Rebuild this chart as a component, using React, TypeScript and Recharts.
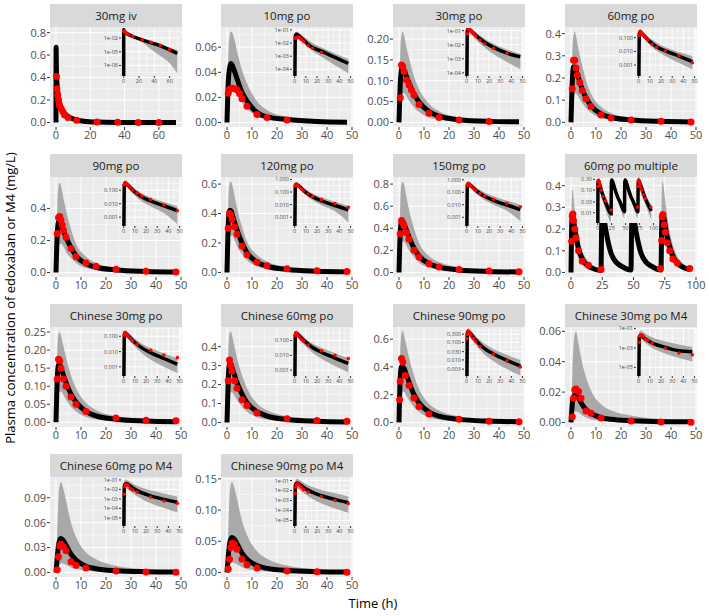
import React from "react";
import { ComposedChart, Line, Area, Scatter, XAxis, YAxis, ReferenceLine } from "recharts";

const FONT = "'Open Sans', 'Noto Sans', sans-serif";

// simulated-curve time grids (h)
const tIv = [0, 0.05, 0.25, 0.5, 1, 2, 3, 4, 6, 8, 12, 16, 24, 36, 48, 60, 70];
const tPo = [0, 0.5, 1, 1.5, 2, 3, 4, 6, 8, 12, 16, 24, 36, 48];
const tMulti = [0, 0.5, 1, 1.5, 2, 3, 4, 6, 8, 12, 16, 24, 24.5, 25, 26, 28, 32, 36, 40, 48, 48.5, 49, 50, 52, 56, 60, 64, 72, 72.5, 73, 74, 76, 78, 80, 84, 88, 96];
const tObs = [0.5, 1, 1.5, 2, 3, 4, 6, 8, 12, 16, 24, 36, 48];
const tObsCn = [0.5, 1, 1.5, 2, 3, 4, 6, 8, 12, 24, 36, 48];

// 30mg iv
const ivMed = [0, 0.67, 0.47, 0.37, 0.27, 0.18, 0.135, 0.102, 0.066, 0.045, 0.022, 0.012, 0.004, 0.0009, 0.0002, 0.000025, 0.0000045];
const ivLo = [0, 0.6, 0.42, 0.33, 0.24, 0.16, 0.115, 0.088, 0.056, 0.037, 0.017, 0.0075, 0.0012, 0.00003, 0.0000012, 0.00000003, 0.0000000002];
const ivHi = [0, 0.74, 0.52, 0.41, 0.3, 0.2, 0.155, 0.118, 0.078, 0.054, 0.028, 0.016, 0.0058, 0.0016, 0.0005, 0.00009, 0.000023];
const ivObsT = [0.25, 0.5, 1, 1.5, 2, 3, 4, 5, 7, 12, 24, 36, 48, 60];
const ivObs = [0.41, 0.3, 0.245, 0.2, 0.155, 0.125, 0.095, 0.066, 0.045, 0.021, 0.0044, 0.0012, 0.00027, 0.00003];

// 10mg po
const p10Med = [0, 0.032, 0.043, 0.047, 0.046, 0.041, 0.035, 0.024, 0.017, 0.008, 0.0045, 0.0024, 0.0008, 0.00028];
const p10Lo = [0, 0.012, 0.022, 0.026, 0.027, 0.025, 0.022, 0.016, 0.011, 0.005, 0.0025, 0.0009, 0.0002, 0.00005];
const p10Hi = [0, 0.05, 0.068, 0.0725, 0.072, 0.066, 0.057, 0.042, 0.031, 0.017, 0.01, 0.0045, 0.0016, 0.0006];
const p10ObsT = [0.5, 1, 2, 3, 4, 5, 6, 8, 12, 16, 24];
const p10Obs = [0.0232, 0.0264, 0.0272, 0.0268, 0.026, 0.023, 0.019, 0.013, 0.0064, 0.004, 0.0019];

// 30mg po
const p30Med = [0, 0.09, 0.128, 0.13, 0.126, 0.11, 0.094, 0.068, 0.049, 0.026, 0.015, 0.0065, 0.0025, 0.0014];
const p30Lo = [0, 0.03, 0.06, 0.07, 0.07, 0.062, 0.052, 0.036, 0.025, 0.012, 0.0065, 0.0022, 0.0006, 0.00018];
const p30Hi = [0, 0.16, 0.21, 0.218, 0.21, 0.18, 0.155, 0.11, 0.08, 0.045, 0.027, 0.012, 0.0045, 0.0022];
const p30ObsT = [0.5, 1, 1.5, 2, 3, 4, 5, 6, 8, 12, 16, 24, 36];
const p30Obs = [0.059, 0.138, 0.134, 0.122, 0.102, 0.09, 0.078, 0.066, 0.043, 0.022, 0.012, 0.0056, 0.0025];

// 60mg po
const p60Med = [0, 0.18, 0.25, 0.25, 0.235, 0.2, 0.165, 0.11, 0.075, 0.038, 0.022, 0.011, 0.0045, 0.0018];
const p60Lo = [0, 0.06, 0.11, 0.13, 0.13, 0.115, 0.095, 0.065, 0.043, 0.02, 0.011, 0.0045, 0.0015, 0.0005];
const p60Hi = [0, 0.3, 0.39, 0.41, 0.39, 0.33, 0.28, 0.19, 0.13, 0.07, 0.042, 0.02, 0.009, 0.0045];
const p60ObsT = [0.5, 1, 1.5, 2, 2.5, 3.5, 4.5, 6, 8, 12, 16, 24, 36, 48];
const p60Obs = [0.152, 0.28, 0.28, 0.245, 0.212, 0.18, 0.144, 0.106, 0.071, 0.033, 0.02, 0.011, 0.005, 0.0015];

// 90mg po
const p90Med = [0, 0.24, 0.316, 0.315, 0.3, 0.26, 0.22, 0.155, 0.105, 0.055, 0.033, 0.016, 0.007, 0.003];
const p90Lo = [0, 0.08, 0.15, 0.18, 0.18, 0.16, 0.13, 0.09, 0.06, 0.028, 0.015, 0.0065, 0.002, 0.0003];
const p90Hi = [0, 0.4, 0.54, 0.56, 0.54, 0.46, 0.39, 0.27, 0.18, 0.1, 0.06, 0.03, 0.013, 0.0065];
const p90ObsT = [0.5, 1, 1.5, 2, 2.5, 3, 4, 6, 8, 12, 16, 24, 36, 48];
const p90Obs = [0.244, 0.344, 0.35, 0.327, 0.296, 0.264, 0.22, 0.15, 0.098, 0.06, 0.039, 0.02, 0.008, 0.003];

// 120mg po
const p120Med = [0, 0.32, 0.42, 0.42, 0.4, 0.34, 0.29, 0.2, 0.135, 0.07, 0.042, 0.02, 0.0085, 0.0038];
const p120Lo = [0, 0.12, 0.22, 0.25, 0.25, 0.22, 0.18, 0.125, 0.082, 0.04, 0.022, 0.009, 0.003, 0.0004];
const p120Hi = [0, 0.45, 0.6, 0.617, 0.6, 0.52, 0.44, 0.31, 0.21, 0.12, 0.075, 0.038, 0.017, 0.008];
const p120Obs = [0.3, 0.4, 0.39, 0.36, 0.31, 0.26, 0.18, 0.12, 0.07, 0.045, 0.025, 0.012, 0.006];

// 150mg po
const p150Med = [0, 0.36, 0.46, 0.46, 0.44, 0.38, 0.32, 0.22, 0.15, 0.08, 0.048, 0.023, 0.0095, 0.0042];
const p150Lo = [0, 0.12, 0.24, 0.28, 0.28, 0.24, 0.2, 0.14, 0.09, 0.045, 0.024, 0.01, 0.0033, 0.0005];
const p150Hi = [0, 0.6, 0.8, 0.823, 0.8, 0.68, 0.57, 0.4, 0.27, 0.15, 0.095, 0.048, 0.021, 0.01];
const p150Obs = [0.35, 0.47, 0.45, 0.42, 0.36, 0.3, 0.2, 0.14, 0.08, 0.05, 0.028, 0.013, 0.007];

// 60mg po multiple
const mMed = [0, 0.2, 0.26, 0.26, 0.24, 0.2, 0.17, 0.11, 0.075, 0.038, 0.022, 0.009, 0.2, 0.28, 0.26, 0.19, 0.09, 0.048, 0.03, 0.011, 0.2, 0.28, 0.26, 0.19, 0.09, 0.048, 0.03, 0.011, 0.2, 0.27, 0.26, 0.19, 0.14, 0.1, 0.05, 0.03, 0.012];
const mLo = [0, 0.1, 0.15, 0.16, 0.15, 0.125, 0.1, 0.065, 0.042, 0.019, 0.01, 0.0038, 0.14, 0.2, 0.19, 0.13, 0.06, 0.031, 0.018, 0.0058, 0.14, 0.2, 0.19, 0.13, 0.06, 0.031, 0.018, 0.0058, 0.12, 0.17, 0.16, 0.12, 0.085, 0.06, 0.028, 0.015, 0.005];
const mHi = [0, 0.3, 0.38, 0.38, 0.35, 0.29, 0.25, 0.17, 0.12, 0.065, 0.04, 0.02, 0.26, 0.35, 0.33, 0.25, 0.12, 0.066, 0.042, 0.017, 0.26, 0.35, 0.33, 0.25, 0.12, 0.066, 0.042, 0.017, 0.32, 0.42, 0.4, 0.3, 0.22, 0.16, 0.085, 0.05, 0.022];
const mObsT = [0.5, 1, 1.5, 2, 3, 4, 6, 9, 14, 24, 71.5, 72.5, 73, 73.5, 74.5, 75.5, 77, 79, 81.5, 85, 95];
const mObs = [0.144, 0.26, 0.27, 0.24, 0.2, 0.16, 0.1, 0.052, 0.033, 0.013, 0.018, 0.147, 0.256, 0.266, 0.22, 0.185, 0.137, 0.1, 0.062, 0.043, 0.018];

// Chinese 30mg po
const c30Med = [0, 0.12, 0.16, 0.16, 0.15, 0.13, 0.11, 0.078, 0.056, 0.03, 0.018, 0.0085, 0.0035, 0.0015];
const c30Lo = [0, 0.04, 0.075, 0.085, 0.085, 0.075, 0.063, 0.043, 0.03, 0.015, 0.008, 0.003, 0.001, 0.0004];
const c30Hi = [0, 0.19, 0.245, 0.25, 0.24, 0.21, 0.18, 0.13, 0.095, 0.054, 0.034, 0.017, 0.0075, 0.0035];
const c30Obs = [0.12, 0.175, 0.17, 0.15, 0.12, 0.1, 0.07, 0.05, 0.03, 0.012, 0.006, 0.004];

// Chinese 60mg po
const c60Med = [0, 0.23, 0.31, 0.31, 0.29, 0.25, 0.21, 0.15, 0.105, 0.057, 0.034, 0.016, 0.0065, 0.0028];
const c60Lo = [0, 0.08, 0.14, 0.16, 0.16, 0.14, 0.12, 0.082, 0.056, 0.028, 0.015, 0.0058, 0.0019, 0.0007];
const c60Hi = [0, 0.36, 0.47, 0.48, 0.46, 0.4, 0.34, 0.25, 0.18, 0.1, 0.064, 0.032, 0.014, 0.0065];
const c60Obs = [0.22, 0.33, 0.3, 0.27, 0.22, 0.18, 0.12, 0.09, 0.05, 0.02, 0.01, 0.006];

// Chinese 90mg po
const c90Med = [0, 0.33, 0.4, 0.4, 0.39, 0.34, 0.29, 0.2, 0.14, 0.075, 0.045, 0.022, 0.0095, 0.0045];
const c90Lo = [0, 0.12, 0.2, 0.22, 0.22, 0.19, 0.16, 0.11, 0.075, 0.036, 0.02, 0.0085, 0.003, 0.0013];
const c90Hi = [0, 0.5, 0.64, 0.66, 0.63, 0.55, 0.47, 0.34, 0.24, 0.135, 0.085, 0.043, 0.02, 0.01];
const c90ObsT = [0.25, 0.5, 1, 1.5, 2.5, 4, 6, 8, 12, 24, 36, 48];
const c90Obs = [0.163, 0.296, 0.46, 0.435, 0.337, 0.265, 0.175, 0.114, 0.06, 0.022, 0.009, 0.004];

// Chinese 30mg po M4
const m30Med = [0, 0.012, 0.017, 0.018, 0.018, 0.016, 0.013, 0.0085, 0.006, 0.0032, 0.0021, 0.0011, 0.0005, 0.0004];
const m30Lo = [0, 0.000003, 0.006, 0.007, 0.0072, 0.0065, 0.0052, 0.0032, 0.0021, 0.001, 0.0006, 0.00025, 0.00009, 0.00004];
const m30Hi = [0, 0.03, 0.05, 0.058, 0.06, 0.052, 0.043, 0.03, 0.021, 0.012, 0.008, 0.0045, 0.0022, 0.0012];
const m30Obs = [0.0038, 0.016, 0.0216, 0.022, 0.0204, 0.016, 0.0076, 0.006, 0.003, 0.0009, 0.0003, 0.0002];

// Chinese 60mg po M4
const m60Med = [0, 0.018, 0.033, 0.039, 0.041, 0.038, 0.033, 0.022, 0.015, 0.0075, 0.0045, 0.0021, 0.0009, 0.00045];
const m60Lo = [0, 0.000004, 0.007, 0.01, 0.011, 0.0105, 0.009, 0.006, 0.004, 0.0019, 0.001, 0.00035, 0.00011, 0.00004];
const m60Hi = [0, 0.05, 0.09, 0.105, 0.109, 0.1, 0.087, 0.06, 0.043, 0.024, 0.016, 0.008, 0.0038, 0.0018];
const m60Obs = [0.0032, 0.019, 0.032, 0.034, 0.031, 0.026, 0.0128, 0.0088, 0.0052, 0.0016, 0.0006, 0.00035];

// Chinese 90mg po M4
const m90Med = [0, 0.025, 0.045, 0.053, 0.056, 0.053, 0.046, 0.031, 0.021, 0.011, 0.0065, 0.003, 0.0013, 0.0006];
const m90Lo = [0, 0.000008, 0.01, 0.014, 0.016, 0.015, 0.013, 0.0085, 0.0057, 0.0027, 0.0014, 0.0005, 0.00016, 0.00006];
const m90Hi = [0, 0.065, 0.12, 0.14, 0.145, 0.135, 0.118, 0.083, 0.06, 0.034, 0.022, 0.011, 0.0052, 0.0025];
const m90Obs = [0.0054, 0.021, 0.04, 0.047, 0.045, 0.037, 0.021, 0.0123, 0.007, 0.0025, 0.001, 0.0005];

// axis ticks
const x48 = [0, 10, 20, 30, 40, 50];
const xIv = [0, 20, 40, 60];
const xMulti = [0, 25, 50, 75, 100];
const decTicks5 = [1e-5, 1e-4, 1e-3, 1e-2, 1e-1];
const decLabels5 = ["1e-05", "1e-04", "1e-03", "1e-02", "1e-01"];
const decTicks4 = [1e-4, 1e-3, 1e-2, 1e-1];
const decLabels4 = ["1e-04", "1e-03", "1e-02", "1e-01"];
const fixTicks3 = [0.001, 0.01, 0.1];
const fixLabels3 = ["0.001", "0.010", "0.100"];
const fixTicks4 = [0.001, 0.01, 0.1, 1];
const fixLabels4 = ["0.001", "0.010", "0.100", "1.000"];

type Panel = {
  title: string;
  t: number[]; med: number[]; lo: number[]; hi: number[];
  obsT: number[]; obs: number[];
  xDom: [number, number]; xTicks: number[];
  yDom: [number, number]; yTicks: number[]; yDec: number;
  inDom: [number, number]; inTicks: number[]; inLabels: string[];
  multi?: boolean;
};

const D48: [number, number] = [-2.4, 50.4];

const panels: Panel[] = [
  { title: "30mg iv", t: tIv, med: ivMed, lo: ivLo, hi: ivHi, obsT: ivObsT, obs: ivObs,
    xDom: [-3.5, 73.5], xTicks: xIv, yDom: [-0.04, 0.85], yTicks: [0, 0.2, 0.4, 0.6, 0.8], yDec: 1,
    inDom: [5e-11, 1.58], inTicks: [1e-8, 1e-5, 1e-2], inLabels: ["1e-08", "1e-05", "1e-02"] },
  { title: "10mg po", t: tPo, med: p10Med, lo: p10Lo, hi: p10Hi, obsT: p10ObsT, obs: p10Obs,
    xDom: D48, xTicks: x48, yDom: [-0.0036, 0.0761], yTicks: [0, 0.02, 0.04, 0.06], yDec: 2,
    inDom: [3.1e-5, 0.14], inTicks: decTicks4, inLabels: decLabels4 },
  { title: "30mg po", t: tPo, med: p30Med, lo: p30Lo, hi: p30Hi, obsT: p30ObsT, obs: p30Obs,
    xDom: D48, xTicks: x48, yDom: [-0.011, 0.229], yTicks: [0, 0.05, 0.1, 0.15, 0.2], yDec: 2,
    inDom: [6e-5, 0.155], inTicks: decTicks4, inLabels: decLabels4 },
  { title: "60mg po", t: tPo, med: p60Med, lo: p60Lo, hi: p60Hi, obsT: p60ObsT, obs: p60Obs,
    xDom: D48, xTicks: x48, yDom: [-0.021, 0.43], yTicks: [0, 0.1, 0.2, 0.3, 0.4], yDec: 1,
    inDom: [1.6e-4, 0.51], inTicks: fixTicks3, inLabels: fixLabels3 },
  { title: "90mg po", t: tPo, med: p90Med, lo: p90Lo, hi: p90Hi, obsT: p90ObsT, obs: p90Obs,
    xDom: D48, xTicks: x48, yDom: [-0.028, 0.596], yTicks: [0, 0.2, 0.4], yDec: 1,
    inDom: [2.2e-4, 0.8], inTicks: fixTicks3, inLabels: fixLabels3 },
  { title: "120mg po", t: tPo, med: p120Med, lo: p120Lo, hi: p120Hi, obsT: tObs, obs: p120Obs,
    xDom: D48, xTicks: x48, yDom: [-0.031, 0.648], yTicks: [0, 0.2, 0.4, 0.6], yDec: 1,
    inDom: [2e-4, 1.3], inTicks: fixTicks4, inLabels: fixLabels4 },
  { title: "150mg po", t: tPo, med: p150Med, lo: p150Lo, hi: p150Hi, obsT: tObs, obs: p150Obs,
    xDom: D48, xTicks: x48, yDom: [-0.041, 0.864], yTicks: [0, 0.2, 0.4, 0.6, 0.8], yDec: 1,
    inDom: [2e-4, 1.4], inTicks: fixTicks4, inLabels: fixLabels4 },
  { title: "60mg po multiple", t: tMulti, med: mMed, lo: mLo, hi: mHi, obsT: mObsT, obs: mObs,
    xDom: [-4.8, 100.8], xTicks: xMulti, yDom: [-0.021, 0.44], yTicks: [0, 0.1, 0.2, 0.3, 0.4], yDec: 1,
    inDom: [0.0035, 0.38], inTicks: [0.01, 0.03, 0.1, 0.3], inLabels: ["0.01", "0.03", "0.10", "0.30"], multi: true },
  { title: "Chinese 30mg po", t: tPo, med: c30Med, lo: c30Lo, hi: c30Hi, obsT: tObsCn, obs: c30Obs,
    xDom: D48, xTicks: x48, yDom: [-0.013, 0.264], yTicks: [0, 0.05, 0.1, 0.15, 0.2, 0.25], yDec: 2,
    inDom: [2.5e-4, 0.35], inTicks: fixTicks3, inLabels: fixLabels3 },
  { title: "Chinese 60mg po", t: tPo, med: c60Med, lo: c60Lo, hi: c60Hi, obsT: tObsCn, obs: c60Obs,
    xDom: D48, xTicks: x48, yDom: [-0.024, 0.504], yTicks: [0, 0.1, 0.2, 0.3, 0.4], yDec: 1,
    inDom: [4e-4, 0.7], inTicks: fixTicks3, inLabels: fixLabels3 },
  { title: "Chinese 90mg po", t: tPo, med: c90Med, lo: c90Lo, hi: c90Hi, obsT: c90ObsT, obs: c90Obs,
    xDom: D48, xTicks: x48, yDom: [-0.033, 0.687], yTicks: [0, 0.2, 0.4, 0.6], yDec: 1,
    inDom: [0.0012, 0.68], inTicks: [0.003, 0.01, 0.03, 0.1, 0.3], inLabels: ["0.003", "0.010", "0.030", "0.100", "0.300"] },
  { title: "Chinese 30mg po M4", t: tPo, med: m30Med, lo: m30Lo, hi: m30Hi, obsT: tObsCn, obs: m30Obs,
    xDom: D48, xTicks: x48, yDom: [-0.003, 0.0629], yTicks: [0, 0.02, 0.04, 0.06], yDec: 2,
    inDom: [1.3e-6, 0.11], inTicks: [1e-5, 1e-3, 1e-1], inLabels: ["1e-05", "1e-03", "1e-01"] },
  { title: "Chinese 60mg po M4", t: tPo, med: m60Med, lo: m60Lo, hi: m60Hi, obsT: tObsCn, obs: m60Obs,
    xDom: D48, xTicks: x48, yDom: [-0.0055, 0.115], yTicks: [0, 0.03, 0.06, 0.09], yDec: 2,
    inDom: [1.4e-6, 0.16], inTicks: decTicks5, inLabels: decLabels5 },
  { title: "Chinese 90mg po M4", t: tPo, med: m90Med, lo: m90Lo, hi: m90Hi, obsT: tObsCn, obs: m90Obs,
    xDom: D48, xTicks: x48, yDom: [-0.0073, 0.153], yTicks: [0, 0.05, 0.1, 0.15], yDec: 2,
    inDom: [2.8e-6, 0.18], inTicks: decTicks5, inLabels: decLabels5 },
];

// layout
const COL_X = [50, 221, 393, 565];
const ROW_Y = [4, 154, 304, 454];
const PW = 132, PH = 100, SH = 23, YW = 40, XH = 20, MT = 8, MR = 10;
const IYW = 22, IXH = 9, IMT = 4, IMR = 6;

function minors(ticks: number[], dom: [number, number], log: boolean) {
  const out: number[] = [];
  const mid = (a: number, b: number) => (log ? Math.sqrt(a * b) : (a + b) / 2);
  for (let i = 0; i < ticks.length - 1; i++) out.push(mid(ticks[i], ticks[i + 1]));
  const a = ticks[0], b = ticks[1];
  const y = ticks[ticks.length - 2], z = ticks[ticks.length - 1];
  out.push(log ? a / Math.sqrt(b / a) : a - (b - a) / 2);
  out.push(log ? z * Math.sqrt(z / y) : z + (z - y) / 2);
  return out.filter((v) => v > dom[0] && v < dom[1]);
}

type Cfg = {
  xDom: [number, number]; xTicks: number[];
  yDom: [number, number]; yTicks: number[]; log: boolean;
  fmt: (v: number) => string;
};

function Frame({ w, h, yw, xh, mt, mr, cfg, axes, font, tick, children }: {
  w: number; h: number; yw: number; xh: number; mt: number; mr: number; cfg: Cfg; axes: boolean;
  font: number; tick: number; children: React.ReactNode;
}) {
  const tickStyle = { fontSize: font, fill: "#4D4D4D", fontFamily: FONT };
  return (
    <ComposedChart
      width={w + yw + mr}
      height={h + xh + mt}
      margin={axes ? { top: mt, right: mr, bottom: 0, left: 0 } : { top: mt, right: mr, bottom: xh, left: yw }}
    >
      <XAxis type="number" dataKey="t" domain={cfg.xDom} ticks={cfg.xTicks} allowDataOverflow interval={0}
        hide={!axes} height={xh} axisLine={false} tickSize={tick} tickMargin={1}
        tickLine={{ stroke: "#333333" }} tick={tickStyle} />
      <YAxis type="number" domain={cfg.yDom} ticks={cfg.yTicks} scale={cfg.log ? "log" : "linear"}
        allowDataOverflow interval={0} hide={!axes} width={yw} axisLine={false} tickSize={tick}
        tickMargin={1} tickFormatter={cfg.fmt} tickLine={{ stroke: "#333333" }} tick={tickStyle} />
      {children}
    </ComposedChart>
  );
}

function gridLines(cfg: Cfg) {
  const xm = minors(cfg.xTicks, cfg.xDom, false);
  const ym = minors(cfg.yTicks, cfg.yDom, cfg.log);
  return [
    ...xm.map((v) => <ReferenceLine key={"xm" + v} x={v} stroke="#FFFFFF" strokeWidth={0.5} />),
    ...ym.map((v) => <ReferenceLine key={"ym" + v} y={v} stroke="#FFFFFF" strokeWidth={0.5} />),
    ...cfg.xTicks.map((v) => <ReferenceLine key={"xM" + v} x={v} stroke="#FFFFFF" strokeWidth={1} />),
    ...cfg.yTicks.map((v) => <ReferenceLine key={"yM" + v} y={v} stroke="#FFFFFF" strokeWidth={1} />),
  ];
}

function series(curve: any[], pts: any[], lw: number, r: number) {
  return [
    <Area key="rib" data={curve} dataKey={(d: any) => [d.lo, d.hi]} type="monotone" stroke="none"
      fill="#A9A9A9" fillOpacity={1} isAnimationActive={false} />,
    <Line key="med" data={curve} dataKey="m" type="monotone" stroke="#000000" strokeWidth={lw}
      dot={false} isAnimationActive={false} />,
    <Scatter key="obs" data={pts} dataKey="c" isAnimationActive={false}
      shape={(s: any) => <circle cx={s.cx} cy={s.cy} r={r} fill="#FF0000" />} />,
  ];
}

function PanelView({ p, idx }: { p: Panel; idx: number }) {
  const left = COL_X[idx % 4];
  const stripTop = ROW_Y[Math.floor(idx / 4)];
  const top = stripTop + SH;

  const curve = p.t.map((t, i) => ({ t, m: p.med[i], lo: p.lo[i], hi: p.hi[i] }));
  const pts = p.obsT.map((t, i) => ({ t, c: p.obs[i] }));
  const floor = p.inDom[0] / 100;
  const curveLog = curve.map((d) => ({
    t: d.t, m: Math.max(d.m, floor), lo: Math.max(d.lo, floor), hi: Math.max(d.hi, floor),
  }));

  const mainCfg: Cfg = {
    xDom: p.xDom, xTicks: p.xTicks, yDom: p.yDom, yTicks: p.yTicks, log: false,
    fmt: (v) => v.toFixed(p.yDec),
  };
  const inCfg: Cfg = {
    xDom: p.xDom, xTicks: p.xTicks, yDom: p.inDom, yTicks: p.inTicks, log: true,
    fmt: (v) => {
      let k = 0;
      p.inTicks.forEach((tv, i) => { if (Math.abs(Math.log10(tv) - Math.log10(v)) < 0.01) k = i; });
      return p.inLabels[k];
    },
  };

  const iLeft = left + (p.multi ? 30 : 71);
  const iTop = top + (p.multi ? 0 : 1);
  const iW = 59;
  const iH = p.multi ? 46 : 48;

  return (
    <>
      <div style={{
        position: "absolute", left, top: stripTop, width: PW, height: SH, background: "#D9D9D9",
        display: "flex", alignItems: "center", justifyContent: "center",
        fontFamily: FONT, fontSize: 11.5, fontWeight: 400, color: "#1A1A1A", whiteSpace: "nowrap",
      }}>{p.title}</div>
      <div style={{ position: "absolute", left, top, width: PW, height: PH, background: "#EBEBEB" }} />
      <div style={{ position: "absolute", left: left - YW, top: top - MT }}>
        <Frame w={PW} h={PH} yw={YW} xh={XH} mt={MT} mr={MR} cfg={mainCfg} axes={false} font={11} tick={3}>
          {gridLines(mainCfg)}
        </Frame>
      </div>
      <div style={{ position: "absolute", left: left - YW, top: top - MT }}>
        <Frame w={PW} h={PH} yw={YW} xh={XH} mt={MT} mr={MR} cfg={mainCfg} axes={true} font={11} tick={3}>
          {series(curve, pts, 5, 3.5)}
        </Frame>
      </div>
      <div style={{ position: "absolute", left: iLeft, top: iTop, width: iW, height: iH, background: "#EBEBEB" }} />
      <div style={{ position: "absolute", left: iLeft - IYW, top: iTop - IMT }}>
        <Frame w={iW} h={iH} yw={IYW} xh={IXH} mt={IMT} mr={IMR} cfg={inCfg} axes={false} font={5.5} tick={2}>
          {gridLines(inCfg)}
        </Frame>
      </div>
      <div style={{ position: "absolute", left: iLeft - IYW, top: iTop - IMT }}>
        <Frame w={iW} h={iH} yw={IYW} xh={IXH} mt={IMT} mr={IMR} cfg={inCfg} axes={true} font={5.5} tick={2}>
          {series(curveLog, pts, 3.5, 1.8)}
        </Frame>
      </div>
    </>
  );
}

export default function App() {
  return (
    <div style={{ position: "absolute", left: 0, top: 0, width: 709, height: 616, background: "#FFFFFF", overflow: "hidden" }}>
      {panels.map((p, i) => <PanelView key={p.title} p={p} idx={i} />)}
      <div style={{
        position: "absolute", left: 10, top: 298, transform: "translate(-50%, -50%) rotate(-90deg)",
        fontFamily: FONT, fontSize: 13, color: "#000000", whiteSpace: "nowrap",
      }}>Plasma concentration of edoxaban or M4 (mg/L)</div>
      <div style={{
        position: "absolute", left: 373, top: 603, transform: "translate(-50%, -50%)",
        fontFamily: FONT, fontSize: 13, color: "#000000", whiteSpace: "nowrap",
      }}>Time (h)</div>
    </div>
  );
}
